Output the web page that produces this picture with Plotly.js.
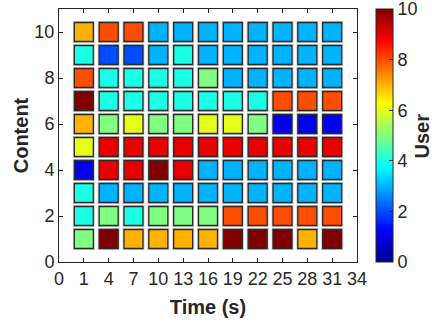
<!DOCTYPE html>
<html><head><meta charset="utf-8">
<script src="https://cdn.plot.ly/plotly-3.0.1.min.js"></script>
<style>html,body{margin:0;padding:0;background:#fff}#c{width:432px;height:323px}</style>
</head><body><div id="c"></div>
<script>
// Time axis tick labels (category positions) and the sampled times
const tickLabels = ["0","1","4","7","10","13","16","19","22","25","28","31","34"];
const times = [1,4,7,10,13,16,19,22,25,28,31];
const contents = [1,2,3,4,5,6,7,8,9,10];
const cbTicks = [0,2,4,6,8,10];
// User values: one row per content level (1..10), one value per time
const row1  = [5,10,7,7,7,7,10,10,10,7,10];
const row2  = [4,5,4,5,5,5,8,8,8,8,8];
const row3  = [4,3,3,3,3,3,3,3,3,3,3];
const row4  = [1,9,9,10,9,3,3,3,3,3,3];
const row5  = [6,9,9,9,9,9,9,9,9,9,9];
const row6  = [7,5,6,5,5,6,6,5,1,1,1];
const row7  = [10,4,4,4,4,4,4,4,8,8,8];
const row8  = [8,4,4,4,4,5,3,3,3,3,3];
const row9  = [4,2,2,3,4,3,3,3,3,3,3];
const row10 = [7,8,8,3,3,3,3,3,3,3,3];
const rows = [row1,row2,row3,row4,row5,row6,row7,row8,row9,row10];

const xs=[], ys=[], vs=[];
rows.forEach((r,i)=>r.forEach((v,j)=>{xs.push(String(times[j])); ys.push(contents[i]); vs.push(v);}));

const jet = [[0,'rgb(0,0,143)'],[0.125,'rgb(0,0,255)'],[0.375,'rgb(0,255,255)'],[0.625,'rgb(255,255,0)'],[0.875,'rgb(255,0,0)'],[1,'rgb(128,0,0)']];
const font = {family:'Liberation Sans, Arial, sans-serif', color:'#262626'};
const tf = Object.assign({size:18},font);
const ttf = Object.assign({size:20},font);

const shadow = {type:'scatter', mode:'markers', x:xs, y:ys, hoverinfo:'skip', showlegend:false,
  marker:{symbol:'square', size:22, color:'rgba(0,0,0,0.2)', line:{width:0}}};
const cells = {type:'scatter', mode:'markers', x:xs, y:ys, showlegend:false,
  marker:{symbol:'square', size:19, color:vs, colorscale:jet, cmin:0, cmax:10,
    line:{color:'#2a2a2a', width:1.3},
    colorbar:{thickness:17, len:1, lenmode:'fraction', x:1.064, xanchor:'left', y:0, yanchor:'bottom',
      outlinewidth:1, outlinecolor:'#262626', tickmode:'array',
      tickvals:cbTicks, ticktext:cbTicks.map(String), ticklabeloverflow:'allow',
      ticks:'inside', ticklen:4, tickcolor:'#262626', tickfont:tf, xpad:0, ypad:0,
      title:{text:''}}}};

const layout = {
  width:432, height:323, margin:{l:59, r:75, t:9, b:61},
  paper_bgcolor:'#fff', plot_bgcolor:'#fff', font:font,
  xaxis:{type:'category', categoryarray:tickLabels, categoryorder:'array', range:[0,12],
    tickvals:tickLabels, ticks:'inside', ticklen:4, tickcolor:'#262626', mirror:'ticks',
    showline:true, linecolor:'#262626', linewidth:1, showgrid:false, zeroline:false,
    tickfont:tf, automargin:false,
    title:{text:'<b>Time (s)</b>', font:ttf, standoff:12}},
  yaxis:{range:[0,11], tickvals:[0,2,4,6,8,10], ticks:'inside', ticklen:4, tickcolor:'#262626', mirror:'ticks',
    showline:true, linecolor:'#262626', linewidth:1, showgrid:false, zeroline:false,
    tickfont:tf, automargin:false,
    title:{text:'<b>Content</b>', font:ttf, standoff:0}},
  annotations:[{text:'<b>User</b>', xref:'paper', yref:'paper', x:1.218, y:0.5, xanchor:'center', yanchor:'middle',
    textangle:-90, showarrow:false, font:ttf}]
};
Plotly.newPlot('c',[shadow,cells],layout,{displayModeBar:false,staticPlot:true});
</script></body></html>
